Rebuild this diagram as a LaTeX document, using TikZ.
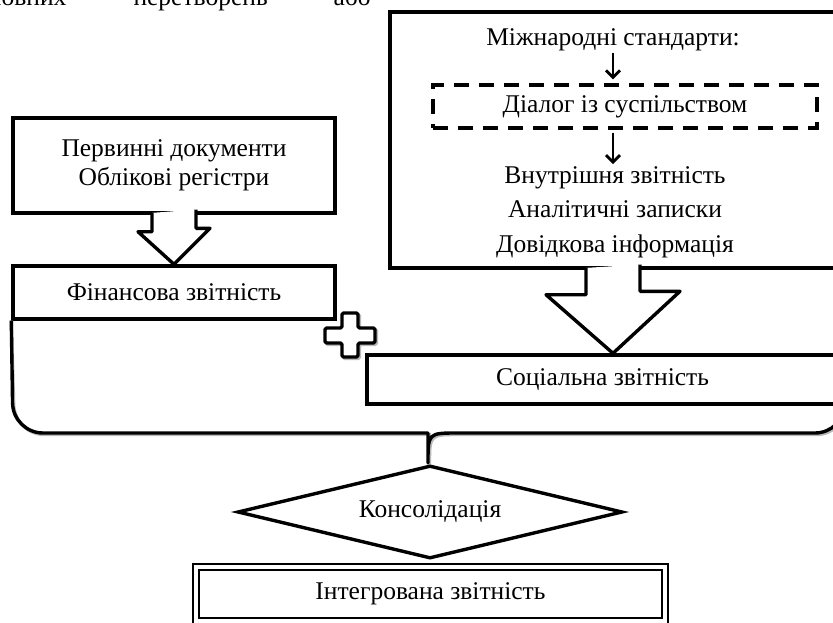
\documentclass[tikz,border=0pt]{standalone}
\usepackage{fontspec}
\setmainfont{Liberation Serif}
\usetikzlibrary{shapes.geometric,calc,arrows.meta}

\begin{document}
\begin{tikzpicture}[x=1pt,y=-1pt, >={Straight Barb[length=7pt,width=14pt]},
	every node/.style={font=\fontsize{25.5}{28.5}\selectfont},
	box/.style={draw, line width=3.4pt, inner sep=0pt, align=center},
	frame/.style={line width=3.4pt, line join=round},
	shade/.style={line width=3.4pt, gray!55, shift={(1.5,1.5)}}]
	\useasboundingbox (0,0) rectangle (833,623);
	%text of the page above
	\node[anchor=base east] (w1) at (70,6) {основних};
	\node[anchor=base west] (w2) at (130,6) {перетворень};
	\node[anchor=base west] (w3) at (330,6) {або};
	%sources
	\node[box, minimum width=446pt, minimum height=256pt] (src) at (613,140) {};
	\node[inner sep=2pt] (std) at (613,40) {Міжнародні стандарти:};
	\node[box, dashed, dash pattern=on 15pt off 10pt, minimum width=384pt, minimum height=43pt] (dlg) at (625,106.5) {Діалог із суспільством};
	\node[align=center, inner sep=2pt] (inner) at (615,212) {Внутрішня звітність\\[6pt]Аналітичні записки\\[6pt]Довідкова інформація};
	\draw[->, line width=2.8pt, shorten >=4pt] (std) -- (std |- dlg.north);
	\draw[->, line width=2.8pt, shorten <=3pt] (std |- dlg.south) -- (std |- inner.north);
	\node[box, minimum width=322pt, minimum height=95pt] (prim) at (174,165.5) {Первинні документи\\Облікові регістри};
	\node[box, minimum width=322pt, minimum height=53pt] (fin) at (174,292.5) {Фінансова звітність};
	\node[box, minimum width=471pt, minimum height=49pt] (soc) at (602.5,379.5) {Соціальна звітність};
	%block arrows
	\draw[frame, fill=white] ($(prim.south)+(-22,-1.8)$) -- ++(0,18.8) -- ++(-14,0) -- (fin.north) -- ++(36,-36) -- ++(-14,0) -- ++(0,-18.8);
	\draw[frame, fill=white] ($(src.south)+(-27,-1.8)$) -- ++(0,26.8) -- ++(-40,0) -- (src.south |- soc.north) -- ++(67,-62) -- ++(-40,0) -- ++(0,-26.8);
	%container
	\draw[shade] (fin.south west) [rounded corners=30pt] -- (13,433) -- (398,433) [sharp corners] .. controls (428,433) .. (428,463) .. controls (428,433) .. (458,433) [rounded corners=30pt] -- (845,433) -- (845,300);
	\draw[frame] (fin.south west) [rounded corners=30pt] -- (13,433) -- (398,433) [sharp corners] .. controls (428,433) .. (428,463) .. controls (428,433) .. (458,433) [rounded corners=30pt] -- (845,433) -- (845,300);
	%plus
	\draw[shade, rounded corners=1.5pt] (342,313) -- (358,313) -- (358,328) -- (375,328) -- (375,343) -- (358,343) -- (358,357) -- (342,357) -- (342,343) -- (325,343) -- (325,328) -- (342,328) -- cycle;
	\draw[frame, fill=white, rounded corners=1.5pt] (342,313) -- (358,313) -- (358,328) -- (375,328) -- (375,343) -- (358,343) -- (358,357) -- (342,357) -- (342,343) -- (325,343) -- (325,328) -- (342,328) -- cycle;
	%result
	\node[draw, diamond, aspect=4.14, line width=3.4pt, minimum width=385pt, minimum height=93pt, inner sep=0pt] (cons) at (430,512) {Консолідація};
	\node[draw, double, line width=2pt, double distance=4.5pt, minimum width=469pt, minimum height=54pt] (integ) at (430.5,594) {Інтегрована звітність};
\end{tikzpicture}
\end{document}
